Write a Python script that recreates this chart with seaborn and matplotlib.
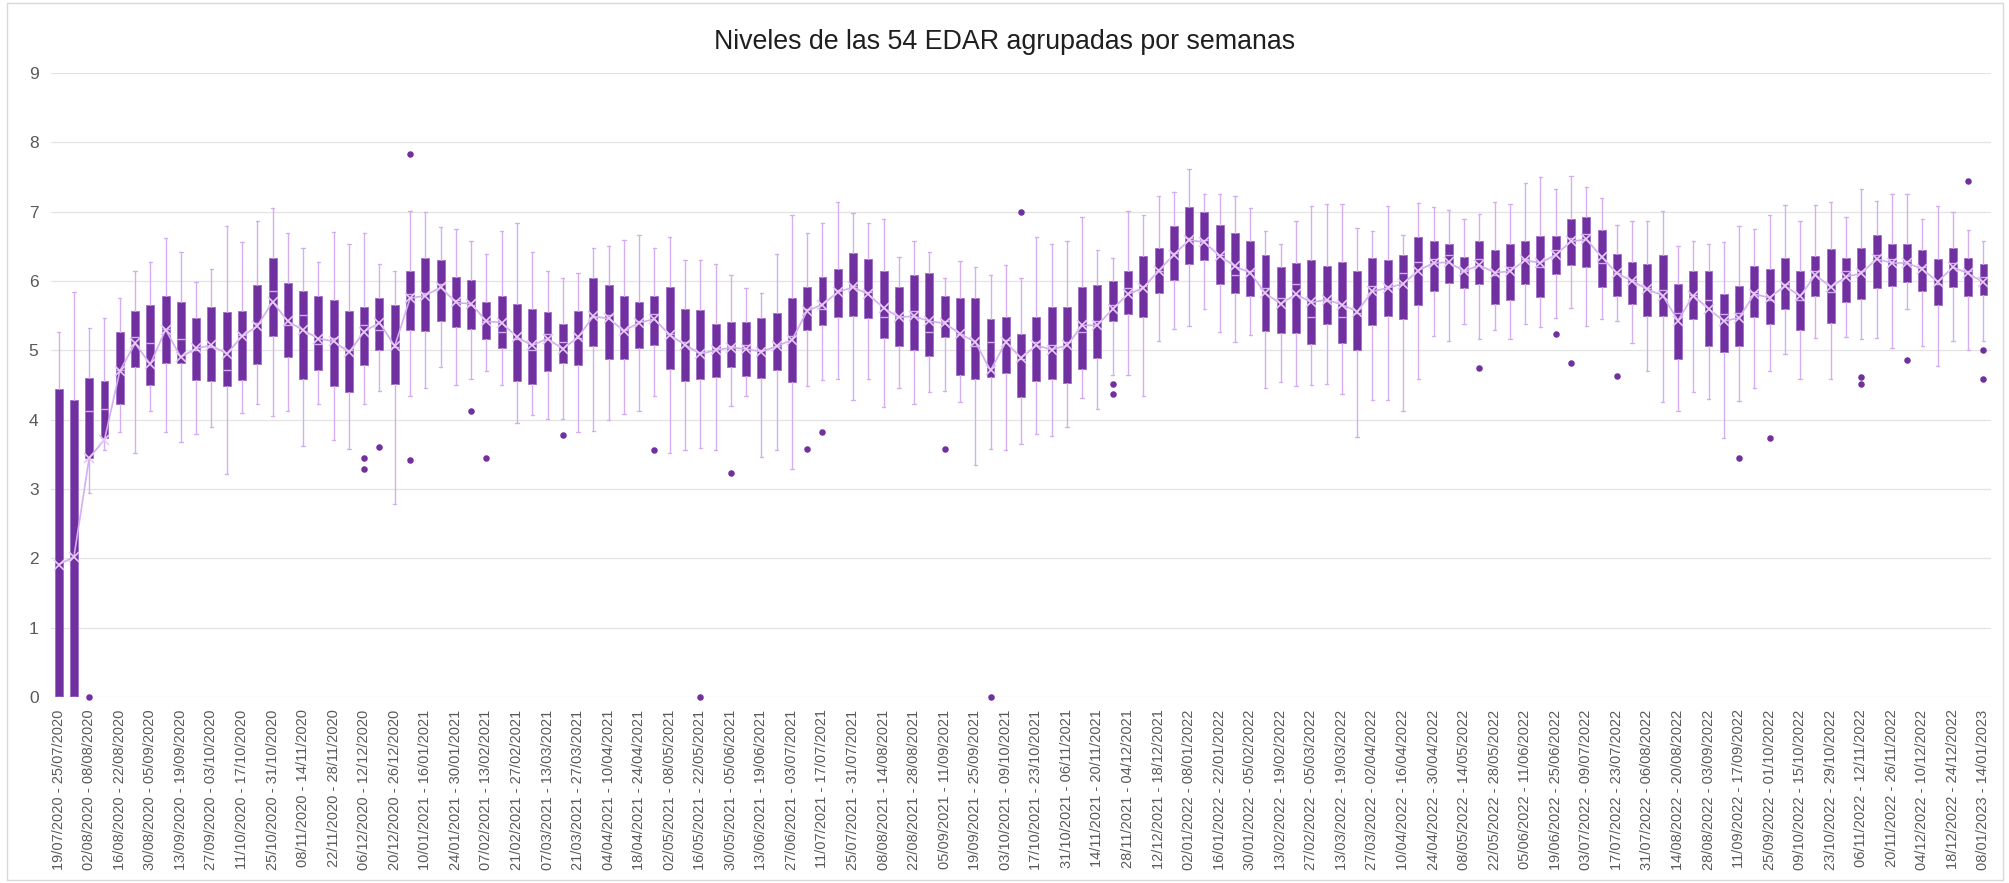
import matplotlib
matplotlib.use("Agg")
import matplotlib.pyplot as plt
from matplotlib.patches import Rectangle
import pandas as pd
import seaborn as sns

# weekly categories (one box per week, a few holiday weeks missing)
FIRST_WEEK = "2020-07-19"
LAST_WEEK = "2023-01-08"
MISSING_WEEKS = ["2020-12-27", "2021-12-26", "2022-12-25"]

WHISK_LO = [0.00, 0.00, 2.94, 3.56, 3.82, 3.52, 4.13, 3.82, 3.68, 3.80,
            3.90, 3.22, 4.09, 4.22, 4.05, 4.12, 3.62, 4.22, 3.71, 3.57,
            4.23, 4.42, 2.79, 4.34, 4.46, 4.76, 4.50, 4.58, 4.70, 4.50,
            3.95, 4.07, 4.01, 4.01, 3.82, 3.84, 3.99, 4.08, 4.12, 4.34,
            3.52, 3.56, 3.59, 3.56, 4.19, 4.34, 3.46, 3.56, 3.29, 4.49,
            4.57, 4.58, 4.28, 4.59, 4.18, 4.46, 4.22, 4.40, 4.42, 4.26,
            3.35, 3.57, 3.56, 3.65, 3.80, 3.77, 3.89, 4.31, 4.16, 4.64,
            4.65, 4.34, 5.14, 5.31, 5.35, 5.60, 5.27, 5.12, 5.22, 4.46,
            4.55, 4.49, 4.50, 4.52, 4.37, 3.75, 4.29, 4.29, 4.12, 4.59,
            5.21, 5.14, 5.38, 5.17, 5.30, 5.17, 5.38, 5.34, 5.46, 5.61,
            5.35, 5.45, 5.42, 5.10, 4.70, 4.25, 4.13, 4.40, 4.30, 3.73,
            4.27, 4.46, 4.70, 4.94, 4.59, 5.18, 4.59, 5.19, 5.17, 5.18,
            5.04, 5.60, 5.06, 4.77, 5.14, 5.01, 5.13]

Q1 = [0.00, 0.00, 3.45, 3.73, 4.23, 4.76, 4.50, 4.81, 4.82, 4.57,
      4.56, 4.49, 4.57, 4.80, 5.21, 4.90, 4.59, 4.71, 4.49, 4.40,
      4.79, 5.01, 4.51, 5.30, 5.28, 5.43, 5.33, 5.31, 5.17, 5.04,
      4.56, 4.51, 4.70, 4.82, 4.79, 5.06, 4.87, 4.87, 5.04, 5.07,
      4.73, 4.56, 4.58, 4.61, 4.76, 4.63, 4.60, 4.71, 4.55, 5.30,
      5.37, 5.48, 5.49, 5.46, 5.18, 5.06, 5.01, 4.92, 5.19, 4.65,
      4.58, 4.61, 4.67, 4.33, 4.56, 4.58, 4.53, 4.73, 4.89, 5.42,
      5.52, 5.48, 5.82, 6.01, 6.24, 6.30, 5.96, 5.82, 5.79, 5.28,
      5.25, 5.25, 5.09, 5.38, 5.10, 5.01, 5.36, 5.49, 5.45, 5.66,
      5.85, 5.97, 5.90, 5.96, 5.67, 5.72, 5.95, 5.77, 6.10, 6.23,
      6.20, 5.92, 5.78, 5.67, 5.50, 5.49, 4.88, 5.45, 5.06, 4.97,
      5.06, 5.48, 5.38, 5.60, 5.29, 5.78, 5.40, 5.69, 5.74, 5.90,
      5.93, 5.98, 5.85, 5.66, 5.91, 5.78, 5.80]

MEDIAN = [0.00, 0.00, 4.13, 4.15, 4.72, 5.19, 5.10, 5.31, 5.16, 5.00,
          5.05, 4.72, 5.22, 5.39, 5.85, 5.36, 5.51, 5.09, 5.18, 5.00,
          5.36, 5.30, 5.05, 5.81, 5.82, 5.95, 5.72, 5.66, 5.42, 5.27,
          5.16, 5.00, 5.24, 5.12, 5.18, 5.48, 5.51, 5.30, 5.42, 5.52,
          5.23, 5.12, 4.97, 5.03, 5.06, 5.07, 5.00, 5.06, 5.21, 5.60,
          5.60, 5.87, 5.93, 5.84, 5.48, 5.48, 5.57, 5.27, 5.42, 5.24,
          5.06, 5.12, 5.15, 4.87, 5.12, 5.07, 5.12, 5.27, 5.42, 5.66,
          5.90, 5.93, 6.14, 6.41, 6.62, 6.59, 6.38, 6.08, 6.14, 5.90,
          5.75, 5.96, 5.48, 5.71, 5.48, 5.54, 5.93, 5.93, 6.12, 6.27,
          6.32, 6.38, 6.14, 6.32, 6.08, 6.20, 6.32, 6.20, 6.44, 6.62,
          6.68, 6.26, 6.11, 6.02, 5.90, 5.87, 5.54, 5.80, 5.72, 5.52,
          5.54, 5.84, 5.72, 5.96, 5.72, 6.14, 5.84, 6.14, 6.14, 6.38,
          6.32, 6.29, 6.20, 5.96, 6.26, 6.14, 6.06]

Q3 = [4.44, 4.29, 4.60, 4.56, 5.26, 5.57, 5.65, 5.78, 5.70, 5.46,
      5.62, 5.55, 5.57, 5.94, 6.33, 5.97, 5.85, 5.78, 5.72, 5.57,
      5.63, 5.76, 5.65, 6.14, 6.33, 6.31, 6.06, 6.01, 5.69, 5.78,
      5.67, 5.59, 5.56, 5.38, 5.57, 6.04, 5.94, 5.79, 5.70, 5.78,
      5.91, 5.60, 5.58, 5.38, 5.41, 5.41, 5.46, 5.54, 5.75, 5.91,
      6.06, 6.18, 6.41, 6.32, 6.14, 5.91, 6.08, 6.12, 5.79, 5.76,
      5.76, 5.45, 5.48, 5.24, 5.48, 5.62, 5.63, 5.91, 5.94, 6.00,
      6.15, 6.36, 6.48, 6.79, 7.07, 6.99, 6.81, 6.69, 6.58, 6.38,
      6.20, 6.26, 6.30, 6.21, 6.27, 6.14, 6.33, 6.30, 6.38, 6.63,
      6.58, 6.54, 6.35, 6.58, 6.45, 6.54, 6.58, 6.65, 6.65, 6.90,
      6.93, 6.74, 6.39, 6.28, 6.24, 6.37, 5.96, 6.15, 6.15, 5.81,
      5.93, 6.21, 6.18, 6.33, 6.14, 6.36, 6.46, 6.33, 6.48, 6.66,
      6.54, 6.53, 6.44, 6.32, 6.48, 6.33, 6.24]

WHISK_HI = [5.27, 5.84, 5.32, 5.47, 5.76, 6.14, 6.27, 6.62, 6.42, 5.99,
            6.17, 6.79, 6.56, 6.87, 7.05, 6.69, 6.47, 6.27, 6.70, 6.54,
            6.69, 6.24, 6.15, 7.01, 6.99, 6.78, 6.75, 6.57, 6.39, 6.72,
            6.84, 6.42, 6.14, 6.05, 6.12, 6.48, 6.51, 6.59, 6.66, 6.48,
            6.63, 6.30, 6.30, 6.24, 6.09, 5.90, 5.82, 6.39, 6.95, 6.69,
            6.84, 7.14, 6.98, 6.84, 6.90, 6.35, 6.57, 6.42, 6.05, 6.29,
            6.20, 6.09, 6.23, 6.05, 6.63, 6.54, 6.57, 6.93, 6.45, 6.33,
            7.01, 6.95, 7.22, 7.29, 7.62, 7.26, 7.25, 7.22, 7.06, 6.72,
            6.54, 6.87, 7.08, 7.11, 7.11, 6.77, 6.72, 7.08, 6.66, 7.13,
            7.07, 7.02, 6.89, 6.96, 7.14, 7.11, 7.41, 7.50, 7.32, 7.52,
            7.35, 7.20, 6.81, 6.87, 6.86, 7.01, 6.51, 6.57, 6.54, 6.56,
            6.80, 6.75, 6.95, 7.10, 6.87, 7.10, 7.14, 6.93, 7.32, 7.16,
            7.25, 7.26, 6.89, 7.08, 7.00, 6.74, 6.57]

MEAN = [1.91, 2.02, 3.45, 3.71, 4.70, 5.10, 4.80, 5.30, 4.90, 5.03,
        5.07, 4.95, 5.20, 5.35, 5.70, 5.42, 5.29, 5.17, 5.13, 4.97,
        5.27, 5.40, 5.06, 5.75, 5.79, 5.91, 5.69, 5.67, 5.42, 5.40,
        5.19, 5.07, 5.17, 5.02, 5.19, 5.49, 5.46, 5.28, 5.40, 5.45,
        5.22, 5.08, 4.95, 5.00, 5.04, 5.02, 4.98, 5.06, 5.15, 5.57,
        5.66, 5.84, 5.91, 5.81, 5.61, 5.48, 5.49, 5.42, 5.39, 5.24,
        5.12, 4.71, 5.12, 4.89, 5.07, 5.01, 5.07, 5.36, 5.36, 5.60,
        5.81, 5.90, 6.15, 6.38, 6.59, 6.56, 6.36, 6.21, 6.12, 5.82,
        5.67, 5.81, 5.69, 5.73, 5.66, 5.56, 5.85, 5.90, 5.96, 6.15,
        6.26, 6.27, 6.14, 6.23, 6.12, 6.14, 6.30, 6.26, 6.38, 6.57,
        6.60, 6.35, 6.11, 6.00, 5.88, 5.79, 5.43, 5.79, 5.60, 5.42,
        5.47, 5.81, 5.76, 5.93, 5.78, 6.09, 5.91, 6.06, 6.11, 6.32,
        6.26, 6.26, 6.17, 5.99, 6.20, 6.11, 5.98]

OUTLIER_WEEK = [2, 20, 20, 21, 23, 23, 27, 28, 33, 39, 42, 44, 49, 50, 58, 61,
                63, 69, 69, 93, 98, 99, 102, 110, 112, 118, 118, 121, 125, 126, 126]
OUTLIER_VALUE = [0.0, 3.45, 3.29, 3.60, 7.83, 3.42, 4.12, 3.45, 3.78, 3.56, 0.0,
                 3.23, 3.58, 3.82, 3.58, 0.0, 6.99, 4.51, 4.37, 4.75, 5.24, 4.81,
                 4.63, 3.44, 3.74, 4.62, 4.51, 4.86, 7.44, 5.00, 4.59]

PURPLE = "#7030A0"
LAVENDER = "#D4AEF0"
TEXT = "#595959"

weeks = pd.date_range(FIRST_WEEK, LAST_WEEK, freq="7D")
weeks = weeks[~weeks.isin(pd.to_datetime(MISSING_WEEKS))]
week_labels = [f"{d:%d/%m/%Y} - {d + pd.Timedelta(days=6):%d/%m/%Y}" for d in weeks]
positions = list(range(len(weeks)))

sns.set_theme(style="white")
plt.rcParams["font.family"] = ["Liberation Sans", "DejaVu Sans"]

fig = plt.figure(figsize=(20.09, 8.83), dpi=100)
ax = fig.add_axes([0.0254, 0.2107, 0.9657, 0.7066])

stats = [dict(whislo=lo, q1=a, med=m, q3=b, whishi=hi, fliers=[])
         for lo, a, m, b, hi in zip(WHISK_LO, Q1, MEDIAN, Q3, WHISK_HI)]
ax.bxp(stats, positions=positions, widths=0.52, patch_artist=True,
       showfliers=False, capwidths=0.22,
       boxprops=dict(facecolor=PURPLE, edgecolor="#9E6CC8", linewidth=0.6),
       medianprops=dict(color=LAVENDER, linewidth=1.0),
       whiskerprops=dict(color=LAVENDER, linewidth=1.0),
       capprops=dict(color=LAVENDER, linewidth=1.0))

# mean markers joined by a line
sns.lineplot(x=positions, y=MEAN, ax=ax, color=LAVENDER, linewidth=1.2,
             marker="x", markersize=7, markeredgewidth=1.2,
             markeredgecolor="#E6CCF7", zorder=5)
sns.scatterplot(x=OUTLIER_WEEK, y=OUTLIER_VALUE, ax=ax, color=PURPLE,
                s=22, linewidth=0, zorder=6, clip_on=False)

ax.set_xlim(-0.5, len(weeks) - 0.5)
ax.set_ylim(0, 9)
ax.set_yticks(range(10))
ax.yaxis.grid(True, color="#E3E3E3", linewidth=0.9)
ax.set_axisbelow(True)
for s in ax.spines.values():
    s.set_visible(False)

ax.set_xticks(positions[::2])
ax.set_xticklabels(week_labels[::2], rotation=90, fontsize=10.5, color=TEXT)
ax.tick_params(axis="x", length=0, pad=9)
ax.tick_params(axis="y", length=0, pad=9, labelsize=12.5, labelcolor=TEXT)
ax.set_xlabel("")
ax.set_ylabel("")

fig.text(0.5, 0.953, "Niveles de las 54 EDAR agrupadas por semanas",
         ha="center", va="center", fontsize=19.3, color="#1F1F1F")

fig.patches.append(Rectangle((7 / 2009, 3 / 883), 1996 / 2009, 877 / 883,
                             transform=fig.transFigure, fill=False,
                             edgecolor="#D9D9D9", linewidth=1))

fig.savefig("out.png", dpi=100, facecolor="white")
